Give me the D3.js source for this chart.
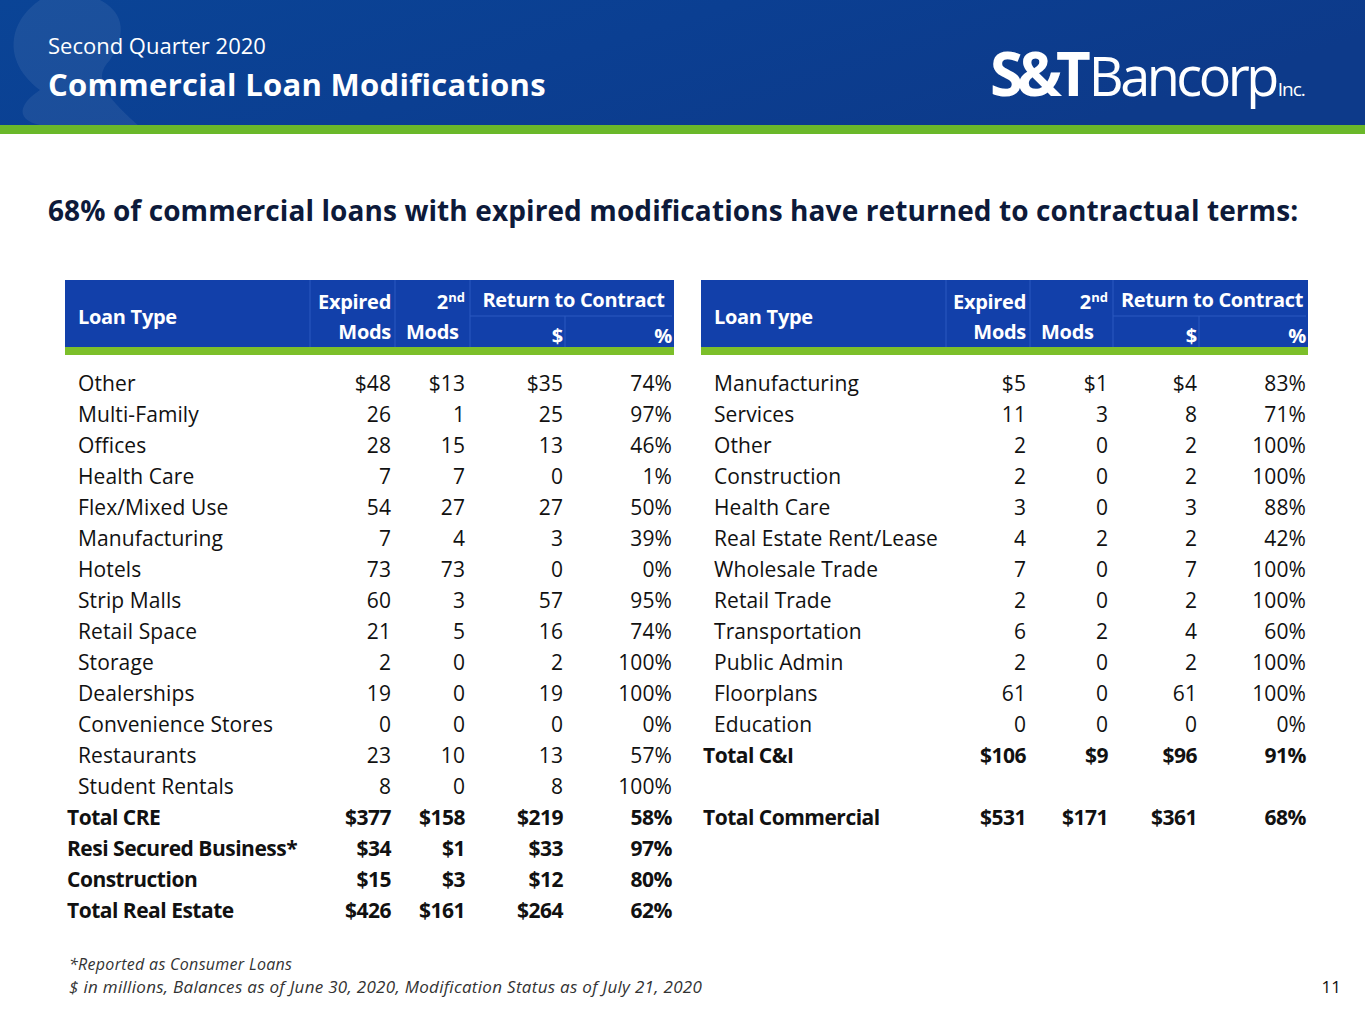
<!DOCTYPE html>
<html><head><meta charset="utf-8">
<script src="https://cdn.jsdelivr.net/npm/d3@7"></script>
<style>body{margin:0;background:#fff}svg{display:block;font-family:"Open Sans",sans-serif}</style>
</head><body><svg id="c" width="1365" height="1024"></svg>
<script>
// left table: CRE
const leftTypes = ["Other","Multi-Family","Offices","Health Care","Flex/Mixed Use","Manufacturing","Hotels","Strip Malls","Retail Space","Storage","Dealerships","Convenience Stores","Restaurants","Student Rentals","Total CRE","Resi Secured Business*","Construction","Total Real Estate"]
const leftExpired = ["$48","26","28","7","54","7","73","60","21","2","19","0","23","8","$377","$34","$15","$426"]
const leftSecond = ["$13","1","15","7","27","4","73","3","5","0","0","0","10","0","$158","$1","$3","$161"]
const leftDollar = ["$35","25","13","0","27","3","0","57","16","2","19","0","13","8","$219","$33","$12","$264"]
const leftPct = ["74%","97%","46%","1%","50%","39%","0%","95%","74%","100%","100%","0%","57%","100%","58%","97%","80%","62%"]
const leftBold = [14,15,16,17]
// right table: C&I
const rightTypes = ["Manufacturing","Services","Other","Construction","Health Care","Real Estate Rent/Lease","Wholesale Trade","Retail Trade","Transportation","Public Admin","Floorplans","Education","Total C&I","","Total Commercial"]
const rightExpired = ["$5","11","2","2","3","4","7","2","6","2","61","0","$106","","$531"]
const rightSecond = ["$1","3","0","0","0","2","0","0","2","0","0","0","$9","","$171"]
const rightDollar = ["$4","8","2","2","3","2","7","2","4","2","61","0","$96","","$361"]
const rightPct = ["83%","71%","100%","100%","88%","42%","100%","100%","60%","100%","100%","0%","91%","","68%"]
const rightBold = [12,14]

const svg = d3.select("#c")
const defs = svg.append("defs")
const g = defs.append("linearGradient").attr("id","hd").attr("x1",0).attr("x2",1).attr("y1",0).attr("y2",0.3)
g.append("stop").attr("offset",0).attr("stop-color","#0a4496")
g.append("stop").attr("offset",0.5).attr("stop-color","#0b3f92")
g.append("stop").attr("offset",1).attr("stop-color","#0d3a8a")
svg.append("rect").attr("width",1365).attr("height",127).attr("fill","url(#hd)")
// faint ampersand watermark shape
svg.append("path").attr("d","M40,0 C10,20 0,60 40,90 C10,110 20,127 60,127 L140,127 C110,100 90,80 110,60 C130,30 120,10 100,0 Z")
  .attr("fill","#fff").attr("opacity",0.07)
svg.append("rect").attr("y",125).attr("width",1365).attr("height",9).attr("fill","#6ab82a")
svg.append("text").attr("x",48).attr("y",54).attr("fill","#fff").attr("font-size",22).text("Second Quarter 2020")
svg.append("text").attr("x",48).attr("y",96).attr("fill","#fff").attr("font-size",31).attr("font-weight",700).attr("letter-spacing",0.3).text("Commercial Loan Modifications")
const logo = svg.append("text").attr("x",990).attr("y",96).attr("fill","#fff")
logo.append("tspan").attr("font-size",60).attr("font-weight",700).attr("letter-spacing",-6).text("S&T")
logo.append("tspan").attr("font-size",54).attr("letter-spacing",-3.5).attr("dx",4).text("Bancorp")
logo.append("tspan").attr("font-size",19).attr("letter-spacing",-1).attr("dx",2).text("Inc.")

svg.append("text").attr("x",48).attr("y",221).attr("font-size",28).attr("font-weight",700).attr("fill","#0d1a3a").attr("letter-spacing",0.1)
  .text("68% of commercial loans with expired modifications have returned to contractual terms:")

function table(x0, cols, types, cols4, bold){
  const w = cols[4]+2-x0
  svg.append("rect").attr("x",x0).attr("y",280).attr("width",w).attr("height",68).attr("fill","#1240aa")
  svg.append("rect").attr("x",x0).attr("y",347).attr("width",w).attr("height",8).attr("fill","#7cbf2a")
  const sep = [cols[0]-4, cols[1]+4, cols[2]+5, cols[3]+2]
  sep.forEach((s,i)=>svg.append("line").attr("x1",s).attr("x2",s).attr("y1", i==3?316:280).attr("y2",347).attr("stroke","#2a58c0"))
  svg.append("line").attr("x1",cols[2]+5).attr("x2",cols[4]).attr("y1",316).attr("y2",316).attr("stroke","#2a58c0")
  const ht = (x,y,t,a)=>svg.append("text").attr("x",x).attr("y",y).attr("fill","#fff").attr("font-size",20).attr("font-weight",700).attr("text-anchor",a).attr("letter-spacing",-0.3).text(t)
  ht(x0+13,324,"Loan Type","start")
  ht(cols[1],309,"Expired","end"); ht(cols[1],339,"Mods","end")
  const nd = svg.append("text").attr("x",cols[2]).attr("y",309).attr("fill","#fff").attr("font-size",20).attr("font-weight",700).attr("text-anchor","end")
  nd.append("tspan").text("2"); nd.append("tspan").attr("font-size",13).attr("dy",-7).text("nd")
  ht(cols[1]+15,339,"Mods","start")
  ht((cols[2]+cols[4])/2+5,307,"Return to Contract","middle")
  ht(cols[3],343,"$","end"); ht(cols[4],343,"%","end")
  const y = d3.scaleLinear().domain([0,1]).range([383,414])
  types.forEach((t,i)=>{
    const b = bold.includes(i)
    const row = svg.append("g").attr("font-size",21).attr("fill","#111").attr("font-weight",b?700:400).attr("letter-spacing",b?-0.5:0.1)
    row.append("text").attr("x",b?x0+2:x0+13).attr("y",y(i)+8).text(t)
    cols4.forEach((arr,j)=>row.append("text").attr("x",cols[j+1]).attr("y",y(i)+8).attr("text-anchor","end").text(arr[i]))
  })
}
table(65,[314,391,465,563,672],leftTypes,[leftExpired,leftSecond,leftDollar,leftPct],leftBold)
table(701,[950,1026,1108,1197,1306],rightTypes,[rightExpired,rightSecond,rightDollar,rightPct],rightBold)

svg.append("text").attr("x",69).attr("y",970).attr("font-size",16).attr("font-style","italic").attr("fill","#333").attr("letter-spacing",0.3).text("*Reported as Consumer Loans")
svg.append("text").attr("x",69).attr("y",993).attr("font-size",17).attr("font-style","italic").attr("fill","#333").attr("letter-spacing",0.3).text("$ in millions, Balances as of June 30, 2020, Modification Status as of July 21, 2020")
svg.append("text").attr("x",1341).attr("y",993).attr("font-size",17).attr("text-anchor","end").attr("fill","#111").text("11")
</script></body></html>
